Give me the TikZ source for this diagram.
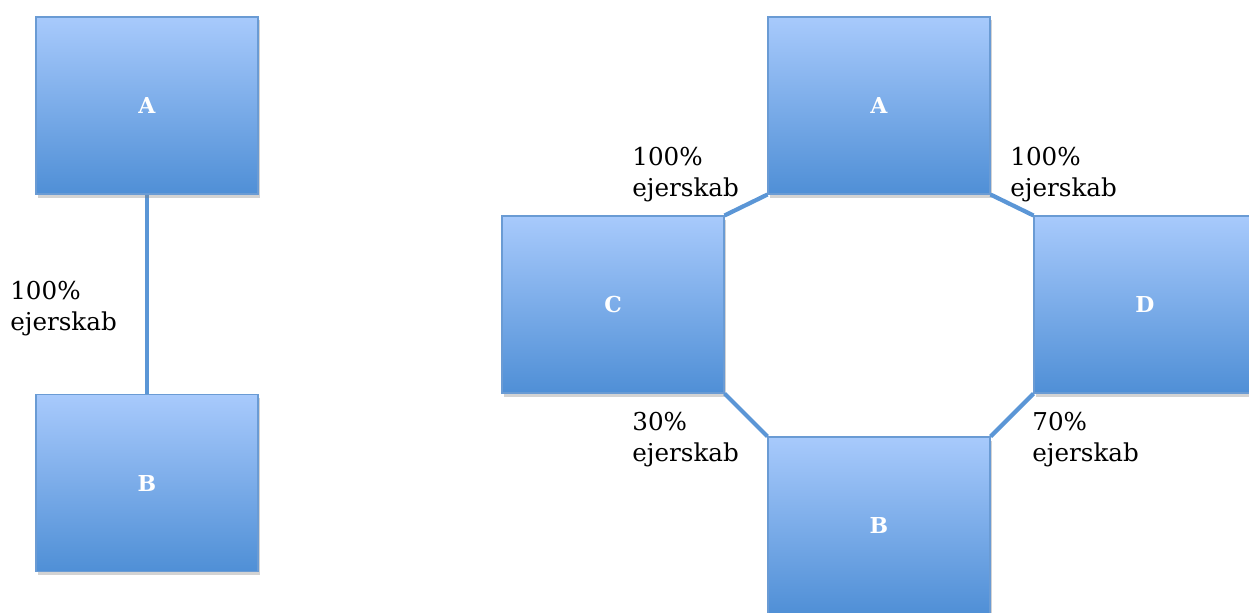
\documentclass[tikz,border=0pt]{standalone}
\usepackage{fontspec}
\setmainfont{DejaVu Serif}
\usetikzlibrary{shadows}
\definecolor{boxtop}{HTML}{A8CAFC}
\definecolor{boxbottom}{HTML}{4F8FD6}
\definecolor{boxedge}{HTML}{6A9BD4}
\definecolor{linkblue}{HTML}{5B96D6}

\begin{document}
\begin{tikzpicture}[
    % Styles
    company/.style={draw=boxedge, line width=0.6pt, top color=boxtop, bottom color=boxbottom,
        minimum width=4.44cm, minimum height=3.54cm, text=white, font=\bfseries\fontsize{12.5}{14}\selectfont,
        drop shadow={shadow xshift=0.04cm, shadow yshift=-0.07cm, opacity=0.35}},
    ownership/.style={draw=linkblue, line width=2.4pt},
    share/.style={anchor=north west, inner sep=0pt, align=left, font=\fontsize{14}{17.6}\selectfont},
]

% Canvas
\useasboundingbox (0,0) rectangle (24.98,-12.24);
\clip (0,0) rectangle (24.98,-12.24);

% LEFT: simple ownership
\draw[ownership] (2.94,-2.11) -- (2.94,-9.66);
\node[company] (a1) at (2.94,-2.11) {A};
\node[company] (b1) at (2.94,-9.66) {B};
\node[share] (s1) at (0.2,-5.62) {100\%\\ejerskab};

% RIGHT: ring ownership
\node[company] (a2) at (17.58,-2.11) {A};
\node[company] (c2) at (12.26,-6.09) {C};
\node[company] (d2) at (22.90,-6.09) {D};
\node[company] (b2) at (17.58,-10.51) {B};

\draw[ownership] (c2.north east) -- (a2.south west);
\draw[ownership] (a2.south east) -- (d2.north west);
\draw[ownership] (c2.south east) -- (b2.north west);
\draw[ownership] (d2.south west) -- (b2.north east);

% Shares
\node[share] (s2) at (12.64,-2.94) {100\%\\ejerskab};
\node[share] (s3) at (20.2,-2.94) {100\%\\ejerskab};
\node[share] (s4) at (12.64,-8.24) {30\%\\ejerskab};
\node[share] (s5) at (20.64,-8.24) {70\%\\ejerskab};

\end{tikzpicture}
\end{document}
